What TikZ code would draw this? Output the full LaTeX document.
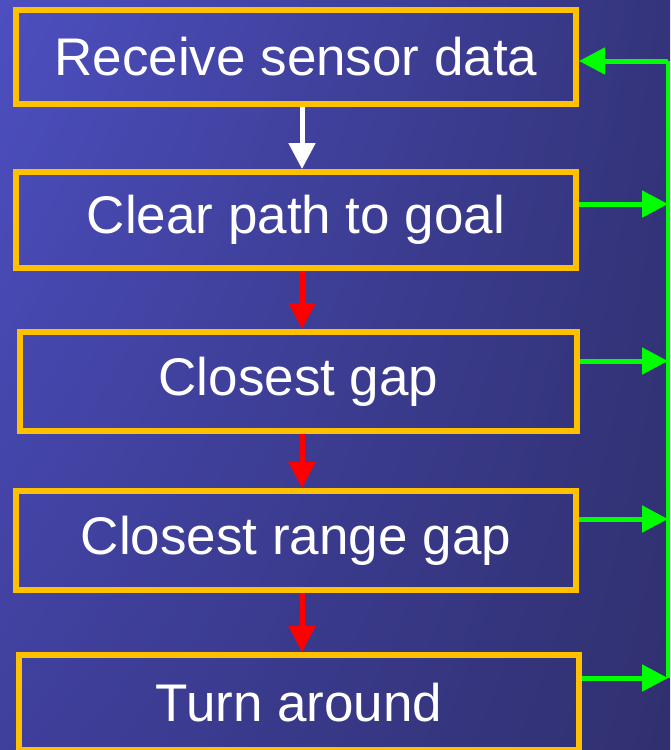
\documentclass[tikz,border=0pt]{standalone}
\usepackage{fontspec}
\setmainfont{Liberation Sans}
\usetikzlibrary{arrows.meta,shadings}
\definecolor{boxyellow}{RGB}{255,192,0}
\definecolor{busgreen}{RGB}{0,255,0}
\definecolor{flowred}{RGB}{255,0,0}
\definecolor{bgUL}{RGB}{77,79,192}
\definecolor{bgUR}{RGB}{52,52,124}
\definecolor{bgLL}{RGB}{63,63,156}
\definecolor{bgLR}{RGB}{48,48,112}
\tikzset{
  stepbox/.style={draw=boxyellow, line width=6pt, inner sep=0pt, text=white,
    font=\fontsize{53}{60}\selectfont},
  flowarrow/.style={line width=5pt, -{Triangle[length=26pt,width=26pt]}},
  busline/.style={draw=busgreen, line width=4pt},
  busarrow/.style={busgreen, line width=5pt, -{Triangle[length=26pt,width=26pt]}}
}
\begin{document}
\begin{tikzpicture}[x=1pt,y=-1pt]
\useasboundingbox (0,0) rectangle (670,750);
\shade[upper left=bgUL, upper right=bgUR, lower left=bgLL, lower right=bgLR] (0,0) rectangle (670,750);
\begin{scope}
\clip (0,0) rectangle (670,750);
\node[stepbox, minimum width=560pt, minimum height=94pt] (b1) at (296,57) {Receive sensor data};
\node[stepbox, minimum width=560pt, minimum height=96pt] (b2) at (296,220) {Clear path to goal};
\node[stepbox, minimum width=557pt, minimum height=99pt] (b3) at (298.5,381.5) {Closest gap};
\node[stepbox, minimum width=560pt, minimum height=99pt] (b4) at (296,540.5) {Closest range gap};
\node[stepbox, minimum width=560pt, minimum height=95pt] (b5) at (299,702.5) {Turn around};
\end{scope}
\coordinate (ax) at (302,0);
\draw[flowarrow, white] (ax |- b1.south) -- (ax |- b2.north);
\draw[flowarrow, flowred] (ax |- b2.south) -- (ax |- b3.north);
\draw[flowarrow, flowred] (ax |- b3.south) -- (ax |- b4.north);
\draw[flowarrow, flowred] (ax |- b4.south) -- (ax |- b5.north);
\coordinate (g1) at (668,61);
\coordinate (g2) at (668,204);
\coordinate (g3) at (668,361);
\coordinate (g4) at (668,519);
\coordinate (g5) at (668,678);
\draw[busline] (g1) -- (g5);
\draw[busarrow] (g1) -- (b1.east |- g1);
\draw[busarrow] (b2.east |- g2) -- (g2);
\draw[busarrow] (b3.east |- g3) -- (g3);
\draw[busarrow] (b4.east |- g4) -- (g4);
\draw[busarrow] (b5.east |- g5) -- (g5);
\end{tikzpicture}
\end{document}
